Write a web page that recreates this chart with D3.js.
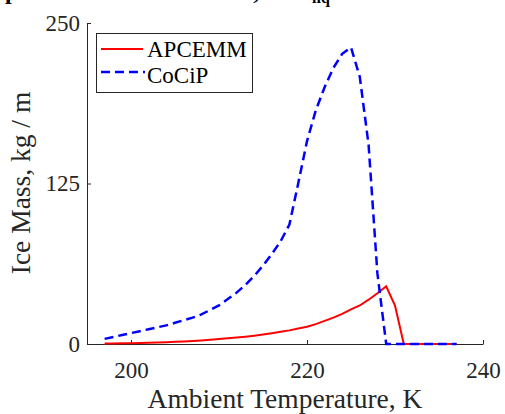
<!DOCTYPE html>
<html>
<head>
<meta charset="utf-8">
<script src="https://cdn.jsdelivr.net/npm/d3@7"></script>
<style>
body { margin: 0; background: #fff; }
svg { display: block; }
.axis path, .axis line { stroke: #262626; stroke-width: 1; }
</style>
</head>
<body>
<script>
var width = 505,
    height = 414,
    serif = "'Liberation Serif', 'Times New Roman', serif";

// data
var temps = [197, 198, 199, 200, 201, 202, 203, 204, 205, 206, 207, 208, 209, 210,
             211, 212, 213, 214, 215, 216, 217, 218, 219, 220, 221, 222, 223, 224,
             225, 226, 227, 228, 229, 230, 231, 232, 233, 234, 235, 236, 237];
var apcemm = [0.3, 0.4, 0.5, 0.6, 0.8, 1.0, 1.2, 1.4, 1.7, 2.0, 2.4, 2.8, 3.3, 3.8,
              4.4, 5.0, 5.7, 6.5, 7.4, 8.4, 9.5, 10.6, 12.0, 13.5, 15.5, 18.0, 20.5, 23.5,
              27.0, 30.0, 34.5, 39.5, 45.0, 30.0, 0, 0, 0, 0, 0, 0, 0];
var cocip = [4, 5.5, 7, 8.5, 10, 11.5, 13, 14.5, 16.5, 18.5, 20.5, 23, 26.5, 30,
             35, 40, 46, 53, 61, 70, 80, 93, 125, 158, 182, 200, 215, 226,
             231, 208, 155, 55, 0, 0, 0, 0, 0, 0, 0, 0, 0];
var xTicks = [200, 220, 240];
var yTicks = [0, 125, 250];
var seriesNames = ["APCEMM", "CoCiP"];

var x = d3.scaleLinear().domain([195, 240]).range([87, 483]);
var y = d3.scaleLinear().domain([0, 250]).range([344, 23]);

var svg = d3.select("body").append("svg")
    .attr("width", width)
    .attr("height", height)
    .style("font-family", serif);

// title, mostly cut off at the top (as in the reference)
var title = svg.append("text")
    .attr("y", -1)
    .attr("font-weight", "bold")
    .attr("font-size", 24)
    .attr("fill", "#000");
title.append("tspan")
    .attr("x", 5)
    .attr("textLength", 300)
    .text("persistent contrail ice, RH");
title.append("tspan")
    .attr("x", 312)
    .attr("dy", 4)
    .attr("font-size", 16)
    .text("liq");
title.append("tspan")
    .attr("dy", -4)
    .text(" = 120 %");

// axes
var xAxis = svg.append("g")
    .attr("class", "axis")
    .attr("transform", "translate(0," + y(0) + ")")
    .call(d3.axisBottom(x).tickValues(xTicks).tickSizeInner(-4).tickSizeOuter(0));
xAxis.attr("font-family", serif).attr("font-size", 23);
xAxis.selectAll("text").attr("y", 34).attr("dy", 0).attr("fill", "#262626");

var yAxis = svg.append("g")
    .attr("class", "axis")
    .attr("transform", "translate(" + x(195) + ",0)")
    .call(d3.axisLeft(y).tickValues(yTicks).tickSizeInner(-4).tickSizeOuter(0).tickPadding(7));
yAxis.attr("font-family", serif).attr("font-size", 23);
yAxis.selectAll("text").attr("fill", "#262626");

svg.append("text")
    .attr("x", 285)
    .attr("y", 408)
    .attr("text-anchor", "middle")
    .attr("font-size", 27.5)
    .attr("fill", "#262626")
    .text("Ambient Temperature, K");

svg.append("text")
    .attr("transform", "translate(30,183) rotate(-90)")
    .attr("text-anchor", "middle")
    .attr("font-size", 27.5)
    .attr("fill", "#262626")
    .text("Ice Mass, kg / m");

// lines
var line = d3.line()
    .x(function(d) { return x(d[0]); })
    .y(function(d) { return y(d[1]); });

svg.append("path")
    .datum(d3.zip(temps, apcemm))
    .attr("fill", "none")
    .attr("stroke", "#ff0000")
    .attr("stroke-width", 2)
    .attr("d", line);

svg.append("path")
    .datum(d3.zip(temps, cocip))
    .attr("fill", "none")
    .attr("stroke", "#0000ff")
    .attr("stroke-width", 2.5)
    .attr("stroke-dasharray", "9,5")
    .attr("d", line);

// legend
var legend = svg.append("g").attr("transform", "translate(96,33)");
legend.append("rect")
    .attr("x", 0.5)
    .attr("y", 0.5)
    .attr("width", 156)
    .attr("height", 59)
    .attr("fill", "#fff")
    .attr("stroke", "#262626")
    .attr("stroke-width", 1);
legend.append("line")
    .attr("x1", 5).attr("x2", 47)
    .attr("y1", 16).attr("y2", 16)
    .attr("stroke", "#ff0000")
    .attr("stroke-width", 2);
legend.append("line")
    .attr("x1", 5).attr("x2", 49)
    .attr("y1", 39).attr("y2", 39)
    .attr("stroke", "#0000ff")
    .attr("stroke-width", 2.5)
    .attr("stroke-dasharray", "9,5");
legend.selectAll("text.leg")
    .data(seriesNames)
    .enter()
    .append("text")
    .attr("class", "leg")
    .attr("x", 51)
    .attr("y", function(d, i) { return 24 + i * 26; })
    .attr("font-family", serif)
    .attr("font-size", 23)
    .attr("fill", "#000")
    .text(function(d) { return d; });
</script>
</body>
</html>
